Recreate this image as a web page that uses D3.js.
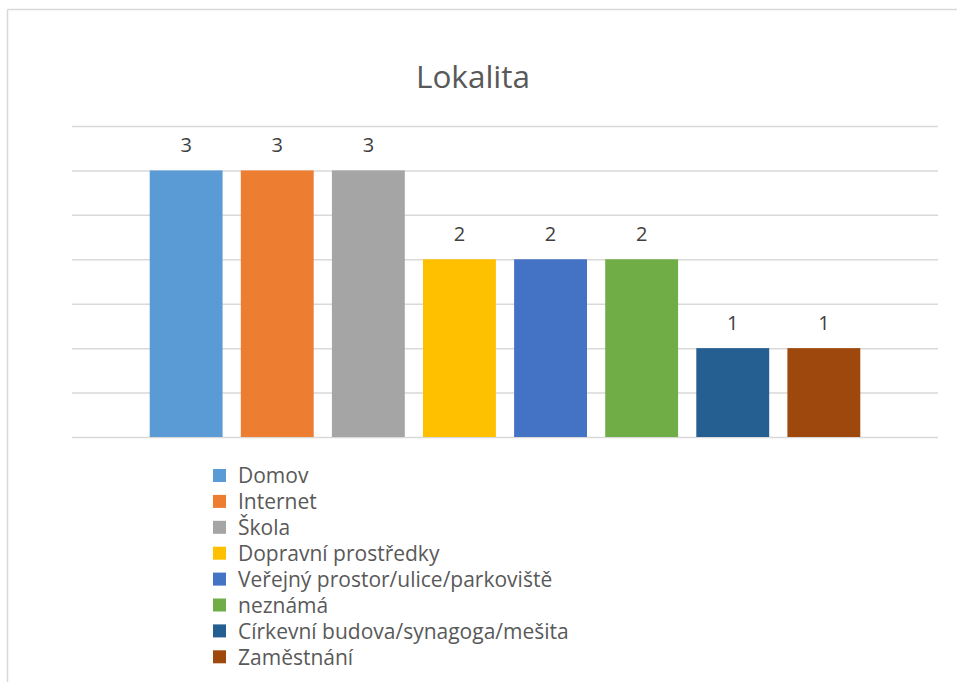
<!DOCTYPE html>
<html>
<head>
<meta charset="utf-8">
<script src="https://cdn.jsdelivr.net/npm/d3@7"></script>
<style>
  body { margin: 0; background: #fff; }
  svg { display: block; font-family: "Open Sans", "Noto Sans", sans-serif; }
</style>
</head>
<body>
<svg width="957" height="682"></svg>
<script>
// chart data
var title = "Lokalita";
var categories = ["Domov", "Internet", "Škola", "Dopravní prostředky",
    "Veřejný prostor/ulice/parkoviště", "neznámá",
    "Církevní budova/synagoga/mešita", "Zaměstnání"];
var values = [3, 3, 3, 2, 2, 2, 1, 1];
var colors = ["#5b9bd5", "#ed7d31", "#a5a5a5", "#ffc000",
    "#4472c4", "#70ad47", "#255e91", "#9e480e"];
var yTicks = [0, 0.5, 1, 1.5, 2, 2.5, 3, 3.5];

var svg = d3.select("svg");

// outer chart border (only top and left visible in the crop)
svg.append("line").attr("x1", 7.5).attr("x2", 957).attr("y1", 9.5).attr("y2", 9.5)
    .attr("stroke", "#d9d9d9").attr("stroke-width", 1.5);
svg.append("line").attr("x1", 7.5).attr("x2", 7.5).attr("y1", 9.5).attr("y2", 682)
    .attr("stroke", "#d9d9d9").attr("stroke-width", 1.5);

var plot = {left: 72, right: 938, top: 126, bottom: 437};

var y = d3.scaleLinear().domain([0, 3.5]).range([plot.bottom, plot.top]);

// one category group of 8 series, centered in the plot
var step = 91.1;
var mid = (plot.left + plot.right) / 2;
var x = d3.scaleBand()
    .domain(categories)
    .range([mid - step * 4, mid + step * 4])
    .paddingInner(0.2)
    .paddingOuter(0.1);

// gridlines
var yAxis = d3.axisLeft(y).tickValues(yTicks)
    .tickSize(-(plot.right - plot.left)).tickFormat("");
var ga = svg.append("g").attr("transform", "translate(" + plot.left + ",0)").call(yAxis);
ga.select(".domain").remove();
ga.selectAll(".tick line").attr("stroke", "#d9d9d9").attr("stroke-width", 1.5);

// title
svg.append("text").attr("x", 473).attr("y", 88)
    .attr("text-anchor", "middle").attr("font-size", 31.5).attr("fill", "#595959")
    .text(title);

// bars
svg.selectAll(".bar").data(values).enter().append("rect")
    .attr("class", "bar")
    .attr("x", function(d, i) { return x(categories[i]); })
    .attr("y", function(d) { return y(d); })
    .attr("width", x.bandwidth())
    .attr("height", function(d) { return y(0) - y(d); })
    .attr("fill", function(d, i) { return colors[i]; });

// data labels
svg.selectAll(".lbl").data(values).enter().append("text")
    .attr("class", "lbl")
    .attr("x", function(d, i) { return x(categories[i]) + x.bandwidth() / 2; })
    .attr("y", function(d) { return y(d) - 18; })
    .attr("text-anchor", "middle").attr("font-size", 20).attr("fill", "#404040")
    .text(function(d) { return d; });

// legend
var lg = svg.append("g").attr("transform", "translate(213,476)");
var rows = lg.selectAll("g").data(categories).enter().append("g")
    .attr("transform", function(d, i) { return "translate(0," + (i * 25.9) + ")"; });
rows.append("rect").attr("x", 0).attr("y", -7).attr("width", 13).attr("height", 13)
    .attr("fill", function(d, i) { return colors[i]; });
rows.append("text").attr("x", 25).attr("y", 0).attr("dy", "0.35em")
    .attr("font-size", 21).attr("fill", "#595959")
    .text(function(d) { return d; });
</script>
</body>
</html>
